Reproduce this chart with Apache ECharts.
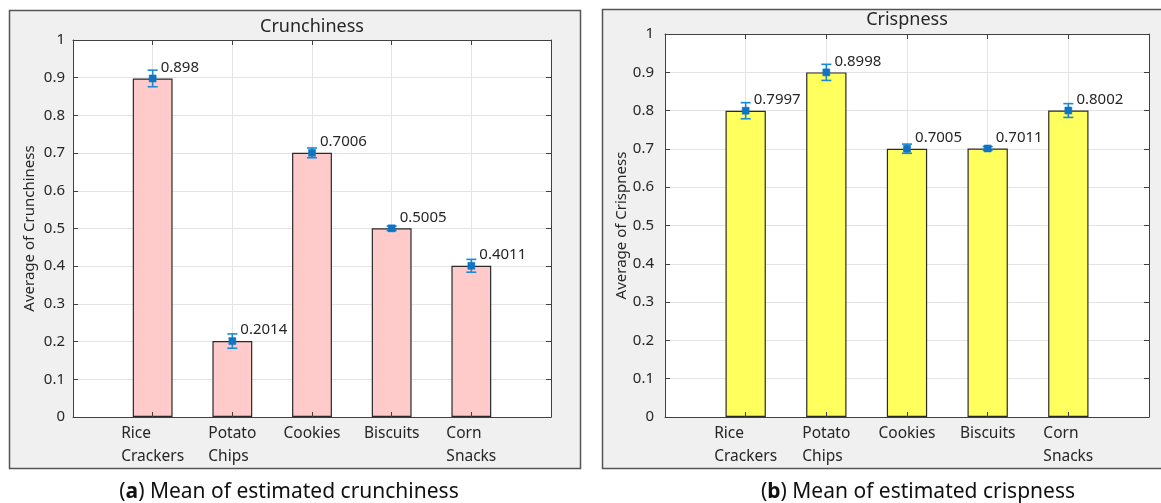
<!DOCTYPE html>
<html>
<head>
<meta charset="utf-8">
<script src="https://cdn.jsdelivr.net/npm/echarts@6/dist/echarts.min.js"></script>
<style>
  html, body { margin: 0; padding: 0; background: #ffffff; }
  #chart { width: 1161px; height: 503px; }
</style>
</head>
<body>
<div id="chart"></div>
<script>
// Snack texture ratings: mean score and its spread per snack
const categories = ['Rice Crackers', 'Potato Chips', 'Cookies', 'Biscuits', 'Corn Snacks'];
const crunchMean = [0.898, 0.2014, 0.7006, 0.5005, 0.4011];
const crunchErr  = [0.022, 0.019, 0.013, 0.006, 0.017];
const crispMean  = [0.7997, 0.8998, 0.7005, 0.7011, 0.8002];
const crispErr   = [0.021, 0.021, 0.012, 0.005, 0.018];
const yMin = 0, yMax = 1, yStep = 0.1;

const FONT = 'Noto Sans';
const TXT = '#262626';
const AX = '#404040';

const chart = echarts.init(document.getElementById('chart'));

const panels = [
  { left: 73, top: 40, width: 478, height: 377, mean: crunchMean, err: crunchErr,
    fill: '#ffcaca', yName: 'Average of Crunchiness', labelGap: 8 },
  { left: 665, top: 34, width: 484, height: 383, mean: crispMean, err: crispErr,
    fill: '#ffff5e', yName: 'Average of Crispness', labelGap: 11 }
];

function catLabel(v) {
  const c = categories[Math.round(v) - 1];
  if (!c || Math.abs(v - Math.round(v)) > 1e-6) return '';
  return c.split(' ').map(w => '{l|' + w + '}').join('\n');
}

const grid = [], xAxis = [], yAxis = [], series = [];

panels.forEach((p, i) => {
  grid.push({ left: p.left, top: p.top, width: p.width, height: p.height,
    show: true, backgroundColor: '#ffffff', borderWidth: 0, containLabel: false });

  const xBase = { gridIndex: i, type: 'value', min: 0, max: categories.length + 1, interval: 1 };
  const yBase = { gridIndex: i, type: 'value', min: yMin, max: yMax, interval: yStep };
  const line = { show: true, onZero: false, lineStyle: { color: AX, width: 1 } };
  const tick = { show: true, inside: true, length: 5, lineStyle: { color: AX, width: 1 } };

  // gridlines (behind bars)
  xAxis.push(Object.assign({}, xBase, { position: 'bottom', z: 0,
    axisLine: { show: false, onZero: false }, axisTick: { show: false }, axisLabel: { show: false },
    splitLine: { show: true, lineStyle: { color: '#e4e4e4', width: 1 } } }));
  // bottom axis with category labels
  xAxis.push(Object.assign({}, xBase, { position: 'bottom', z: 5,
    axisLine: line, axisTick: tick, splitLine: { show: false },
    axisLabel: { show: true, margin: 5, color: TXT, fontFamily: FONT, fontSize: 15.5,
      showMinLabel: false, showMaxLabel: false, formatter: catLabel,
      rich: { l: { align: 'left', fontFamily: FONT, fontSize: 15.5, lineHeight: 23, color: TXT } } } }));
  // top box edge
  xAxis.push(Object.assign({}, xBase, { position: 'top', z: 5,
    axisLine: line, axisTick: tick, axisLabel: { show: false }, splitLine: { show: false } }));

  yAxis.push(Object.assign({}, yBase, { position: 'left', z: 0,
    axisLine: { show: false, onZero: false }, axisTick: { show: false }, axisLabel: { show: false },
    splitLine: { show: true, lineStyle: { color: '#e4e4e4', width: 1 } } }));
  yAxis.push(Object.assign({}, yBase, { position: 'left', z: 5,
    axisLine: line, axisTick: tick, splitLine: { show: false },
    name: p.yName, nameLocation: 'middle', nameGap: 36, nameRotate: 90,
    nameTextStyle: { color: TXT, fontFamily: FONT, fontSize: 15 },
    axisLabel: { show: true, margin: p.labelGap, color: TXT, fontFamily: FONT, fontSize: 15 } }));
  yAxis.push(Object.assign({}, yBase, { position: 'right', z: 5,
    axisLine: line, axisTick: tick, axisLabel: { show: false }, splitLine: { show: false } }));

  const barData = p.mean.map((v, k) => [k + 1, v]);
  const errData = p.mean.map((v, k) => [k + 1, v, p.err[k]]);

  series.push({
    type: 'bar', xAxisIndex: i * 3 + 1, yAxisIndex: i * 3 + 1, z: 2,
    data: barData, barWidth: p.width / (categories.length + 1) / 2,
    itemStyle: { color: p.fill, borderColor: '#2a2a2a', borderWidth: 1.2 },
    label: { show: true, position: ['70%', -11], align: 'left', verticalAlign: 'middle',
      color: TXT, fontFamily: FONT, fontSize: 15, formatter: q => String(q.value[1]) },
    emphasis: { disabled: true }, silent: true
  });

  series.push({
    type: 'custom', xAxisIndex: i * 3 + 1, yAxisIndex: i * 3 + 1, z: 10,
    data: errData, encode: { x: 0, y: 1 }, silent: true,
    renderItem: (params, api) => {
      const x = api.value(0), v = api.value(1), e = api.value(2);
      const hi = api.coord([x, v + e]), lo = api.coord([x, v - e]), c = api.coord([x, v]);
      const cap = 5, s = 3.5, col = '#1a8ad8';
      const st = { stroke: col, lineWidth: 1.6 };
      return { type: 'group', children: [
        { type: 'line', shape: { x1: hi[0], y1: hi[1], x2: lo[0], y2: lo[1] }, style: st },
        { type: 'line', shape: { x1: hi[0] - cap, y1: hi[1], x2: hi[0] + cap, y2: hi[1] }, style: st },
        { type: 'line', shape: { x1: lo[0] - cap, y1: lo[1], x2: lo[0] + cap, y2: lo[1] }, style: st },
        { type: 'rect', shape: { x: c[0] - s, y: c[1] - s, width: 2 * s, height: 2 * s },
          style: { fill: '#0f74c4', stroke: '#0f74c4', lineWidth: 0.5 } }
      ] };
    }
  });
});

const graphic = [
  { type: 'rect', z: -1, shape: { x: 9.5, y: 10.5, width: 571, height: 458 },
    style: { fill: '#f0f0f0', stroke: '#555555', lineWidth: 1.5 } },
  { type: 'rect', z: -1, shape: { x: 602.5, y: 9.5, width: 562, height: 459 },
    style: { fill: '#f0f0f0', stroke: '#555555', lineWidth: 1.5 } },
  { type: 'text', z: 10, x: 312, y: 27,
    style: { text: 'Crunchiness', align: 'center', verticalAlign: 'middle',
      font: '18px "Noto Sans"', fill: TXT } },
  { type: 'text', z: 10, x: 907, y: 20,
    style: { text: 'Crispness', align: 'center', verticalAlign: 'middle',
      font: '18px "Noto Sans"', fill: TXT } },
  { type: 'text', z: 10, x: 289, y: 492,
    style: { text: '({b|a}) Mean of estimated crunchiness', align: 'center', verticalAlign: 'middle',
      font: '21px "Noto Sans"', fill: '#111111',
      rich: { b: { fontWeight: 'bold', fontSize: 21, fontFamily: FONT, fill: '#111111' } } } },
  { type: 'text', z: 10, x: 918, y: 492,
    style: { text: '({b|b}) Mean of estimated crispness', align: 'center', verticalAlign: 'middle',
      font: '21px "Noto Sans"', fill: '#111111',
      rich: { b: { fontWeight: 'bold', fontSize: 21, fontFamily: FONT, fill: '#111111' } } } }
];

chart.setOption({ animation: false, grid, xAxis, yAxis, series, graphic });
</script>
</body>
</html>
